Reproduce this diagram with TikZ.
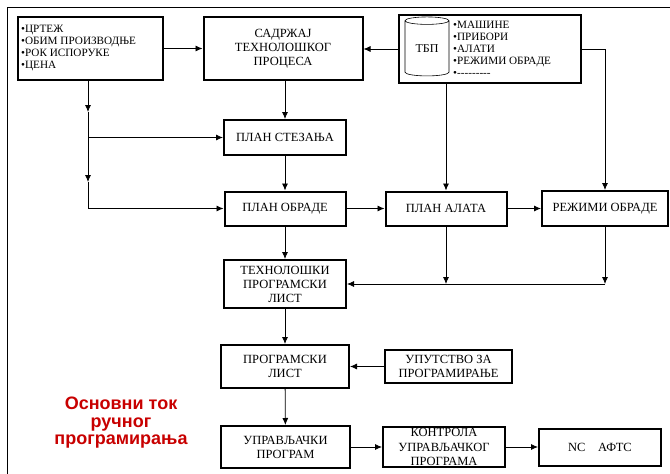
\documentclass[tikz,border=0pt]{standalone}
\usepackage{fontspec}
\setmainfont{Liberation Serif}
\newfontfamily\tokfont{Liberation Sans}
\usepackage{xcolor}
\usetikzlibrary{shapes.geometric, calc, arrows.meta, positioning}
\definecolor{tokred}{RGB}{200,0,0}

\begin{document}
\begin{tikzpicture}[x=1pt, y=-1pt,
    box/.style={draw, line width=2pt, align=center, inner sep=1pt,
      font=\rmfamily\fontsize{12.5}{14}\selectfont},
    lista/.style={align=left, inner sep=0pt, font=\rmfamily\fontsize{11.2}{12}\selectfont},
    flow/.style={-{Latex[length=7pt,width=6pt]}, line width=0.8pt}]
  \useasboundingbox (0,0) rectangle (670,474);
  % frame
  \draw[line width=0.8pt] (7,474) -- (7,7) -- (670,7);
  % top row
  \node[box, minimum width=145pt, minimum height=63pt] (ulaz) at (90,48.5) {};
  \node[lista, anchor=west] (ulazlist) at (21,48.5)
    {\textbullet ЦРТЕЖ\\\textbullet ОБИМ ПРОИЗВОДЊЕ\\\textbullet РОК ИСПОРУКЕ\\\textbullet ЦЕНА};
  \node[box, minimum width=159pt, minimum height=63pt] (sadrzaj) at (283,48.5)
    {САДРЖАЈ\\ТЕХНОЛОШКОГ\\ПРОЦЕСА};
  \node[box, minimum width=182pt, minimum height=68pt] (tbp) at (490,49) {};
  \node[draw, cylinder, shape border rotate=90, aspect=0.3, line width=0.6pt,
    minimum width=44pt, minimum height=59pt, inner sep=1pt,
    font=\rmfamily\fontsize{12}{13}\selectfont] (baza) at (427,49) {ТБП};
  \node[lista, anchor=west] (tbplist) at (453,49)
    {\textbullet МАШИНЕ\\\textbullet ПРИБОРИ\\\textbullet АЛАТИ\\\textbullet РЕЖИМИ ОБРАДЕ\\\textbullet{-}{-}{-}{-}{-}{-}{-}{-}{-}};
  % plans
  \node[box, minimum width=122pt, minimum height=35pt] (stezanje) at (285,137.5) {ПЛАН СТЕЗАЊА};
  \node[box, minimum width=121pt, minimum height=34pt] (obrada) at (285,208.5) {ПЛАН ОБРАДЕ};
  \node[box, minimum width=121pt, minimum height=34pt] (alati) at (446,208.5) {ПЛАН АЛАТА};
  \node[box, minimum width=126pt, minimum height=35pt] (rezimi) at (605,208.5) {РЕЖИМИ ОБРАДЕ};
  \node[box, minimum width=122pt, minimum height=48pt] (tpl) at (285,284)
    {ТЕХНОЛОШКИ\\ПРОГРАМСКИ\\ЛИСТ};
  % program
  \node[box, minimum width=128pt, minimum height=43pt] (plist) at (285,366.5) {ПРОГРАМСКИ\\ЛИСТ};
  \node[box, minimum width=127pt, minimum height=33pt] (uputstvo) at (448.5,366.5)
    {УПУТСТВО ЗА\\ПРОГРАМИРАЊЕ};
  \node[box, minimum width=129pt, minimum height=42pt] (upr) at (285.5,447) {УПРАВЉАЧКИ\\ПРОГРАМ};
  \node[box, minimum width=122pt, minimum height=40pt, inner ysep=-4pt,
    font=\rmfamily\fontsize{12.5}{14.5}\selectfont] (kontrola) at (444,447)
    {КОНТРОЛА\\УПРАВЉАЧКОГ\\ПРОГРАМА};
  \node[box, minimum width=122pt, minimum height=37pt] (nc) at (600,447) {NC\quad АФТС};
  \node[align=center, text=tokred, font=\tokfont\bfseries\fontsize{18}{17.5}\selectfont]
    (naslov) at (121,423) {Основни ток\\ручног\\програмирања};
  % connections
  \coordinate (k1) at (88,112);
  \coordinate (k2) at (88,182);
  \draw[flow] (ulaz.east) -- (sadrzaj.west);
  \draw[flow] (tbp.west) -- (tbp.west -| sadrzaj.east);
  \draw[flow] (sadrzaj.south -| stezanje.north) -- (stezanje.north);
  \draw[flow] (ulaz.south -| k1) -- (k1);
  \draw[flow] (k1) -- (k2);
  \draw[flow] (k1 |- stezanje.west) -- (stezanje.west);
  \draw[flow] (k2) |- (obrada.west);
  \draw[flow] (stezanje) -- (obrada);
  \draw[flow] (tbp.south -| alati.north) -- (alati.north);
  \draw[flow] (tbp.east) -| (rezimi.north);
  \draw[flow] (obrada) -- (alati);
  \draw[flow] (alati) -- (rezimi);
  \draw[flow] (obrada) -- (tpl);
  \draw[flow] (alati.south) -- (alati.south |- tpl.east);
  \draw[flow] (rezimi.south) -- (rezimi.south |- tpl.east);
  \draw[flow] (rezimi.south |- tpl.east) -- (tpl.east);
  \draw[flow] (tpl) -- (plist);
  \draw[flow] (uputstvo) -- (plist);
  \draw[flow] (plist) -- (upr);
  \draw[flow] (upr) -- (kontrola);
  \draw[flow] (kontrola) -- (nc);
\end{tikzpicture}
\end{document}
